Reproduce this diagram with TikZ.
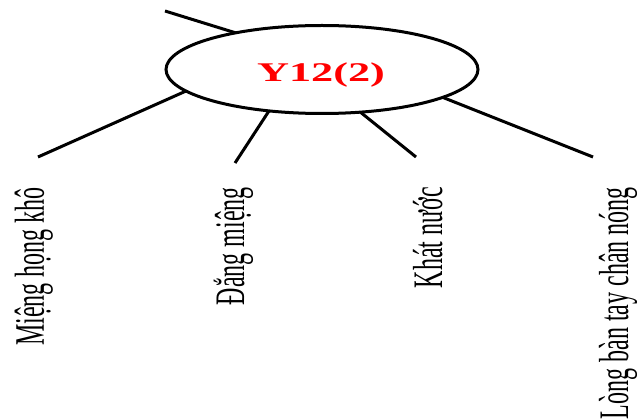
\documentclass[tikz,border=0pt]{standalone}
\usepackage{graphicx}
\usepackage{fontspec}
\setmainfont{Liberation Serif}
\usetikzlibrary{shapes.geometric}
\begin{document}
\begin{tikzpicture}[x=1pt,y=1pt,
  bubble/.style={ellipse, draw, line width=3pt, minimum width=312pt,
    minimum height=88pt, inner sep=0pt, outer sep=0pt},
  title/.style={text=red, inner sep=0pt, anchor=base,
    font=\fontsize{27}{27}\selectfont\bfseries},
  branch/.style={line width=3pt},
  symptom/.style={rotate=90, anchor=base east, inner sep=0pt,
    font=\fontsize{24}{24}\selectfont}]
\useasboundingbox (0,0) rectangle (637,418);

% central bubble and its title
\node[bubble] (core) at (322,348.5) {};
\node[title] (name) at (321,336.3) {\scalebox{1.64}[1]{Y12(2)}};

% free ends of the branches
\coordinate (tl) at (165,407);
\coordinate (e1) at (38,261);
\coordinate (e2) at (235,255);
\coordinate (e3) at (416,261);
\coordinate (e4) at (593,261);

% branches
\draw[branch] (tl) -- (core.157.1);
\draw[branch] (core.189.9) -- (e1);
\draw[branch] (core.218.1) -- (e2);
\draw[branch] (core.312.5) -- (e3);
\draw[branch] (core.347) -- (e4);

% symptoms, read bottom to top
\node[symptom] (s1) at (44,231) {\scalebox{1}[1.75]{Miệng họng khô}};
\node[symptom] (s2) at (244,231) {\scalebox{1}[1.75]{Đắng miệng}};
\node[symptom] (s3) at (442,231) {\scalebox{1}[1.75]{Khát nước}};
\node[symptom] (s4) at (628,231) {\scalebox{1}[1.75]{Lòng bàn tay chân nóng}};
\end{tikzpicture}
\end{document}
